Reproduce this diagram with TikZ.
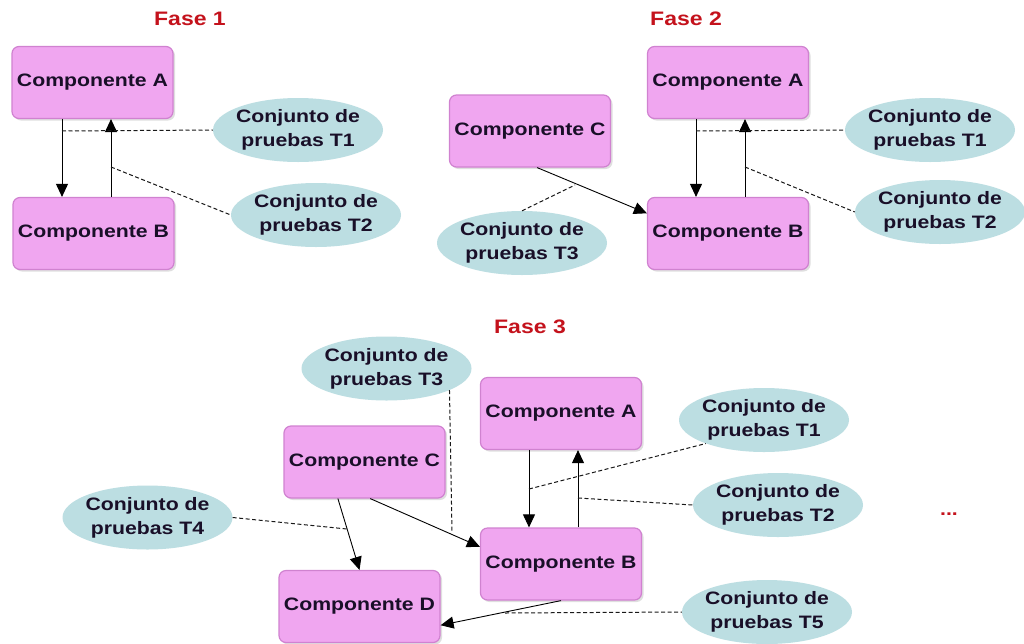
\documentclass[tikz,border=0pt]{standalone}
\usepackage{fontspec}
\newfontfamily\lblfont{Liberation Sans}[FakeStretch=1.18]
\usetikzlibrary{arrows.meta,shapes.geometric,shadows}
\definecolor{boxfill}{RGB}{240,166,240}
\definecolor{boxedge}{RGB}{208,130,208}
\definecolor{ellfill}{RGB}{188,222,226}
\definecolor{txt}{RGB}{25,15,40}
\definecolor{fase}{RGB}{196,18,28}
\tikzset{
  comp/.style={rectangle, rounded corners=7pt, fill=boxfill, draw=boxedge, line width=1.2pt,
    minimum width=161pt, minimum height=72pt, inner sep=0pt,
    font=\lblfont\bfseries\fontsize{18}{24}\selectfont, text=txt,
    drop shadow={shadow xshift=2pt, shadow yshift=-2pt, opacity=0.25}},
  tset/.style={ellipse, fill=ellfill, minimum width=170pt, minimum height=64pt,
    inner xsep=-6pt, inner ysep=-2pt, align=center,
    font=\lblfont\bfseries\fontsize{18}{24}\selectfont, text=txt},
  phase/.style={font=\lblfont\bfseries\fontsize{19.5}{22}\selectfont, text=fase},
  arr/.style={-{Triangle[length=13pt,width=12pt]}, line width=0.9pt, draw=black},
  dsh/.style={dashed, dash pattern=on 4pt off 2.5pt, line width=1pt, draw=black!90},
}
\begin{document}
\begin{tikzpicture}[x=1pt,y=-1pt]
\useasboundingbox[fill=white] (0,0) rectangle (1024,643);

% ---------------- Fase 1 ----------------
\node[phase] (f1) at (190,19) {Fase 1};
\node[comp] (A1) at (92.5,82.5) {Componente A};
\node[comp] (B1) at (93.5,233.5) {Componente B};
\node[tset] (T1a) at (298,130) {Conjunto de\\pruebas T1};
\node[tset] (T2a) at (316,215) {Conjunto de\\pruebas T2};
\coordinate (a1x) at (62,0);
\coordinate (b1x) at (111,0);
\draw[arr] (A1.south -| a1x) -- (B1.north -| a1x);
\draw[arr] (B1.north -| b1x) -- (A1.south -| b1x);
\coordinate (d1) at (62,131);
\coordinate (d2) at (111,167);
\draw[dsh] (d1) -- (T1a.west);
\draw[dsh] (d2) -- (T2a.west);

% ---------------- Fase 2 ----------------
\node[phase] (f2) at (686,19) {Fase 2};
\node[comp] (A2) at (728,82.5) {Componente A};
\node[comp] (B2) at (728,233.5) {Componente B};
\node[comp] (C2) at (530,131) {Componente C};
\node[tset] (T1b) at (930,130) {Conjunto de\\pruebas T1};
\node[tset] (T2b) at (940,212) {Conjunto de\\pruebas T2};
\node[tset] (T3b) at (522,243) {Conjunto de\\pruebas T3};
\coordinate (a2x) at (696,0);
\coordinate (b2x) at (745,0);
\draw[arr] (A2.south -| a2x) -- (B2.north -| a2x);
\draw[arr] (B2.north -| b2x) -- (A2.south -| b2x);
\draw[arr] (C2.281) -- (B2.166);
\coordinate (e1) at (696,131);
\coordinate (e2) at (745,167);
\coordinate (e3) at (575,185);
\draw[dsh] (e1) -- (T1b.west);
\draw[dsh] (e2) -- (T2b.west);
\draw[dsh] (T3b.north) -- (e3);

% ---------------- Fase 3 ----------------
\node[phase] (f3) at (530,327) {Fase 3};
\node[comp] (A3) at (561,413.5) {Componente A};
\node[comp] (B3) at (561,564) {Componente B};
\node[comp] (C3) at (364.5,462) {Componente C};
\node[comp] (D3) at (359.5,606.5) {Componente D};
\node[tset] (T3c) at (386.5,368.5) {Conjunto de\\pruebas T3};
\node[tset] (T4c) at (147.5,517.5) {Conjunto de\\pruebas T4};
\node[tset] (T1c) at (764,420) {Conjunto de\\pruebas T1};
\node[tset] (T2c) at (778,505) {Conjunto de\\pruebas T2};
\node[tset] (T5c) at (767,612) {Conjunto de\\pruebas T5};
\node[anchor=base, font=\lblfont\bfseries\fontsize{18}{24}\selectfont, text=fase] (dots) at (949,515) {...};
\coordinate (a3x) at (529,0);
\coordinate (b3x) at (578,0);
\draw[arr] (A3.south -| a3x) -- (B3.north -| a3x);
\draw[arr] (B3.north -| b3x) -- (A3.south -| b3x);
\draw[arr] (C3.234) -- (D3.north);
\draw[arr] (C3.279) -- (B3.168);
\draw[arr] (B3.south) -- (D3.-13);
\coordinate (g1) at (529,489);
\coordinate (g2) at (578,498);
\coordinate (g3) at (452,532);
\coordinate (g4) at (347,529);
\coordinate (g5) at (505,613);
\draw[dsh] (g1) -- (T1c.202);
\draw[dsh] (g2) -- (T2c.west);
\draw[dsh] (T3c.-19) -- (g3);
\draw[dsh] (T4c.east) -- (g4);
\draw[dsh] (g5) -- (T5c.west);
\end{tikzpicture}
\end{document}
